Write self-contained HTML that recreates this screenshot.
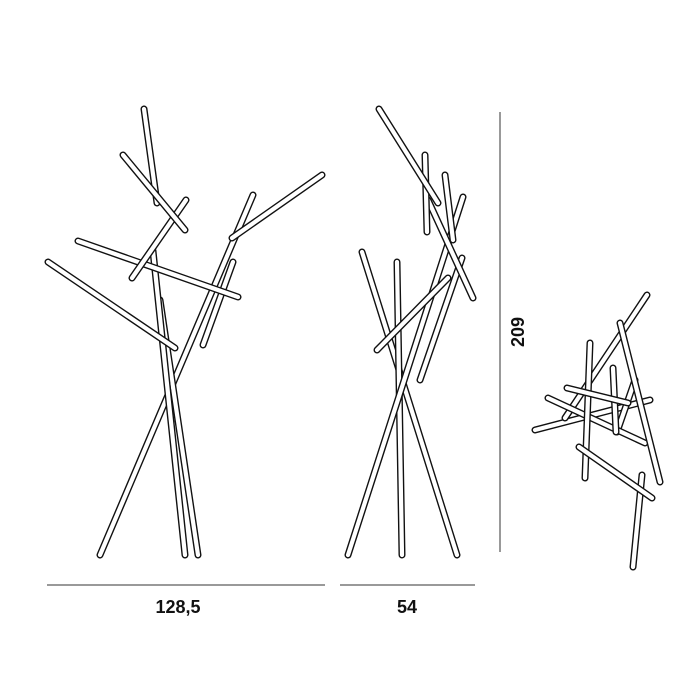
<!DOCTYPE html>
<html><head><style>
html,body{margin:0;padding:0;background:#fff;}
svg{display:block}
</style></head><body>
<svg width="700" height="700" viewBox="0 0 700 700" xmlns="http://www.w3.org/2000/svg">
<g stroke-linecap="round">
<line x1="253" y1="195" x2="100" y2="555" stroke="#111" stroke-width="7"/><line x1="253" y1="195" x2="100" y2="555" stroke="#fff" stroke-width="4.2"/>
<line x1="160" y1="300" x2="198" y2="555" stroke="#111" stroke-width="7"/><line x1="160" y1="300" x2="198" y2="555" stroke="#fff" stroke-width="4.2"/>
<line x1="153" y1="251" x2="185" y2="555" stroke="#111" stroke-width="7"/><line x1="153" y1="251" x2="185" y2="555" stroke="#fff" stroke-width="4.2"/>
<line x1="233" y1="262" x2="203" y2="345" stroke="#111" stroke-width="7"/><line x1="233" y1="262" x2="203" y2="345" stroke="#fff" stroke-width="4.2"/>
<line x1="48" y1="262" x2="175" y2="348" stroke="#111" stroke-width="7"/><line x1="48" y1="262" x2="175" y2="348" stroke="#fff" stroke-width="4.2"/>
<line x1="78" y1="241" x2="238" y2="297" stroke="#111" stroke-width="7"/><line x1="78" y1="241" x2="238" y2="297" stroke="#fff" stroke-width="4.2"/>
<line x1="144" y1="109" x2="157" y2="203" stroke="#111" stroke-width="7"/><line x1="144" y1="109" x2="157" y2="203" stroke="#fff" stroke-width="4.2"/>
<line x1="186" y1="200" x2="132" y2="278" stroke="#111" stroke-width="7"/><line x1="186" y1="200" x2="132" y2="278" stroke="#fff" stroke-width="4.2"/>
<line x1="123" y1="155" x2="185" y2="230" stroke="#111" stroke-width="7"/><line x1="123" y1="155" x2="185" y2="230" stroke="#fff" stroke-width="4.2"/>
<line x1="322" y1="175" x2="232" y2="238" stroke="#111" stroke-width="7"/><line x1="322" y1="175" x2="232" y2="238" stroke="#fff" stroke-width="4.2"/>

<line x1="362" y1="252" x2="457" y2="555" stroke="#111" stroke-width="7"/><line x1="362" y1="252" x2="457" y2="555" stroke="#fff" stroke-width="4.2"/>
<line x1="397" y1="262" x2="402" y2="555" stroke="#111" stroke-width="7"/><line x1="397" y1="262" x2="402" y2="555" stroke="#fff" stroke-width="4.2"/>
<line x1="462" y1="258" x2="420" y2="380" stroke="#111" stroke-width="7"/><line x1="462" y1="258" x2="420" y2="380" stroke="#fff" stroke-width="4.2"/>
<line x1="463" y1="197" x2="348" y2="555" stroke="#111" stroke-width="7"/><line x1="463" y1="197" x2="348" y2="555" stroke="#fff" stroke-width="4.2"/>
<line x1="377" y1="350" x2="448" y2="278" stroke="#111" stroke-width="7"/><line x1="377" y1="350" x2="448" y2="278" stroke="#fff" stroke-width="4.2"/>
<line x1="428" y1="200" x2="473" y2="298" stroke="#111" stroke-width="7"/><line x1="428" y1="200" x2="473" y2="298" stroke="#fff" stroke-width="4.2"/>
<line x1="425" y1="155" x2="427" y2="232" stroke="#111" stroke-width="7"/><line x1="425" y1="155" x2="427" y2="232" stroke="#fff" stroke-width="4.2"/>
<line x1="445" y1="175" x2="453" y2="240" stroke="#111" stroke-width="7"/><line x1="445" y1="175" x2="453" y2="240" stroke="#fff" stroke-width="4.2"/>
<line x1="379" y1="109" x2="438" y2="203" stroke="#111" stroke-width="7"/><line x1="379" y1="109" x2="438" y2="203" stroke="#fff" stroke-width="4.2"/>

<line x1="642" y1="475" x2="633" y2="567" stroke="#111" stroke-width="7"/><line x1="642" y1="475" x2="633" y2="567" stroke="#fff" stroke-width="4.2"/>
<line x1="535" y1="430" x2="650" y2="400" stroke="#111" stroke-width="7"/><line x1="535" y1="430" x2="650" y2="400" stroke="#fff" stroke-width="4.2"/>
<line x1="647" y1="295" x2="565" y2="418" stroke="#111" stroke-width="7"/><line x1="647" y1="295" x2="565" y2="418" stroke="#fff" stroke-width="4.2"/>
<line x1="617" y1="432" x2="635" y2="380" stroke="#111" stroke-width="7"/><line x1="617" y1="432" x2="635" y2="380" stroke="#fff" stroke-width="4.2"/>
<line x1="548" y1="398" x2="645" y2="443" stroke="#111" stroke-width="7"/><line x1="548" y1="398" x2="645" y2="443" stroke="#fff" stroke-width="4.2"/>
<line x1="590" y1="343" x2="585" y2="478" stroke="#111" stroke-width="7"/><line x1="590" y1="343" x2="585" y2="478" stroke="#fff" stroke-width="4.2"/>
<line x1="613" y1="368" x2="616" y2="432" stroke="#111" stroke-width="7"/><line x1="613" y1="368" x2="616" y2="432" stroke="#fff" stroke-width="4.2"/>
<line x1="567" y1="388" x2="628" y2="403" stroke="#111" stroke-width="7"/><line x1="567" y1="388" x2="628" y2="403" stroke="#fff" stroke-width="4.2"/>
<line x1="579" y1="447" x2="652" y2="498" stroke="#111" stroke-width="7"/><line x1="579" y1="447" x2="652" y2="498" stroke="#fff" stroke-width="4.2"/>
<line x1="620" y1="323" x2="660" y2="482" stroke="#111" stroke-width="7"/><line x1="620" y1="323" x2="660" y2="482" stroke="#fff" stroke-width="4.2"/>
</g>
<line x1="47" y1="585" x2="325" y2="585" stroke="#333" stroke-width="1"/>
<line x1="340" y1="585" x2="475" y2="585" stroke="#333" stroke-width="1"/>
<line x1="500" y1="112" x2="500" y2="552" stroke="#333" stroke-width="1"/>
<text x="178" y="613" text-anchor="middle" font-family="Liberation Sans, sans-serif" font-size="18" font-weight="bold" fill="#111">128,5</text>
<text x="407" y="613" text-anchor="middle" font-family="Liberation Sans, sans-serif" font-size="18" font-weight="bold" fill="#111">54</text>
<text transform="translate(524,332) rotate(-90)" text-anchor="middle" font-family="Liberation Sans, sans-serif" font-size="18" font-weight="bold" fill="#111">209</text>
</svg>
</body></html>
